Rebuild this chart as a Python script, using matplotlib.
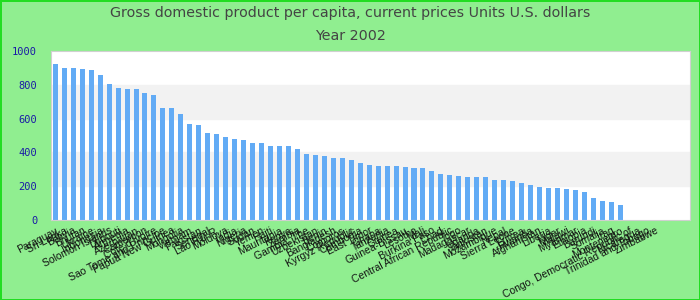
import numpy as np
import matplotlib.pyplot as plt

# data
countries = ['Paraguay', 'Sri Lanka', 'Bolivia', 'Bhutan', 'Ukraine', 'Indonesia',
             'Solomon Islands', 'Djibouti', 'Armenia', 'Azerbaijan', 'Cameroon',
             "Cote d'Ivoire", 'Sao Tome and Principe', 'Papua New Guinea', 'Mongolia',
             'Vietnam', 'Pakistan', 'Senegal', 'Lao P.D.R.', 'Moldova', 'India',
             'Nigeria', 'Sudan', 'Yemen', 'Haiti', 'Mauritania', 'Kenya', 'Zambia',
             'Gambia, The', 'Uzbekistan', 'Benin', 'Bangladesh', 'Comoros',
             'Kyrgyz Republic', 'Cambodia', 'East Timor', 'Ghana', 'Tanzania', 'Guinea',
             'Guinea-Bissau', 'Lesotho', 'Mali', 'Burkina Faso', 'Chad',
             'Central African Republic', 'Togo', 'Madagascar', 'Uganda', 'Tajikistan',
             'Mozambique', 'Nepal', 'Sierra Leone', 'Eritrea', 'Rwanda', 'Afghanistan',
             'Liberia', 'Niger', 'Malawi', 'Myanmar', 'Ethiopia',
             'Burundi', 'Somalia', 'Iraq', 'Montenegro',
             'Congo, Democratic Republic of', 'Nicaragua', 'Trinidad and Tobago', 'Zimbabwe']
gdp = [923, 899, 899, 893, 887, 858, 805, 781, 775, 775, 751, 740, 663, 663, 627,
       568, 562, 515, 509, 491, 479, 473, 456, 456, 438, 438, 438, 420, 391, 385,
       379, 367, 367, 355, 337, 325, 320, 320, 320, 314, 308, 308, 290, 272, 266,
       260, 254, 254, 254, 237, 237, 231, 219, 207, 195, 189, 189, 183, 177, 166,
       130, 112, 106, 89, 0, 0, 0, 0]
yticks = [0, 200, 400, 600, 800, 1000]

x = np.arange(len(countries))

fig = plt.figure(figsize=(7, 3), dpi=100, facecolor='#90ee90',
                 edgecolor='#22dd22', linewidth=2)
ax = fig.add_axes([0.073, 0.267, 0.913, 0.563])
ax.set_facecolor('white')

# alternating bands
for lo in [200, 600]:
    ax.axhspan(lo, lo+200, color='#f2f2f2', zorder=0)

ax.bar(x, gdp, width=0.56, color='#62abf5', zorder=2)

ax.set_xlim(-0.47, 70.8)
ax.set_ylim(0, 1000)
ax.set_yticks(yticks)
ax.set_yticklabels([str(v) for v in yticks], family='DejaVu Sans Mono',
                   fontsize=7.5, color='#1a1aa6')
ax.set_xticks(x)
ax.set_xticklabels(countries, rotation=27, ha='right', rotation_mode='anchor',
                   fontsize=7.5, color='#111111',
                   family=['Liberation Sans', 'DejaVu Sans'])
ax.tick_params(axis='both', length=0, pad=4)
ax.tick_params(axis='y', pad=10)
for s in ax.spines.values():
    s.set_color('#d0d0d0')

fig.text(0.5, 0.955, 'Gross domestic product per capita, current prices Units U.S. dollars',
         ha='center', va='center', fontsize=10.3, color='#444444',
         family=['Liberation Sans Narrow', 'DejaVu Sans'])
fig.text(0.5, 0.88, 'Year 2002', ha='center', va='center', fontsize=10.3,
         color='#444444', family=['Liberation Sans Narrow', 'DejaVu Sans'])

plt.savefig('out.png', dpi=100, facecolor=fig.get_facecolor(),
            edgecolor=fig.get_edgecolor())
plt.close()
